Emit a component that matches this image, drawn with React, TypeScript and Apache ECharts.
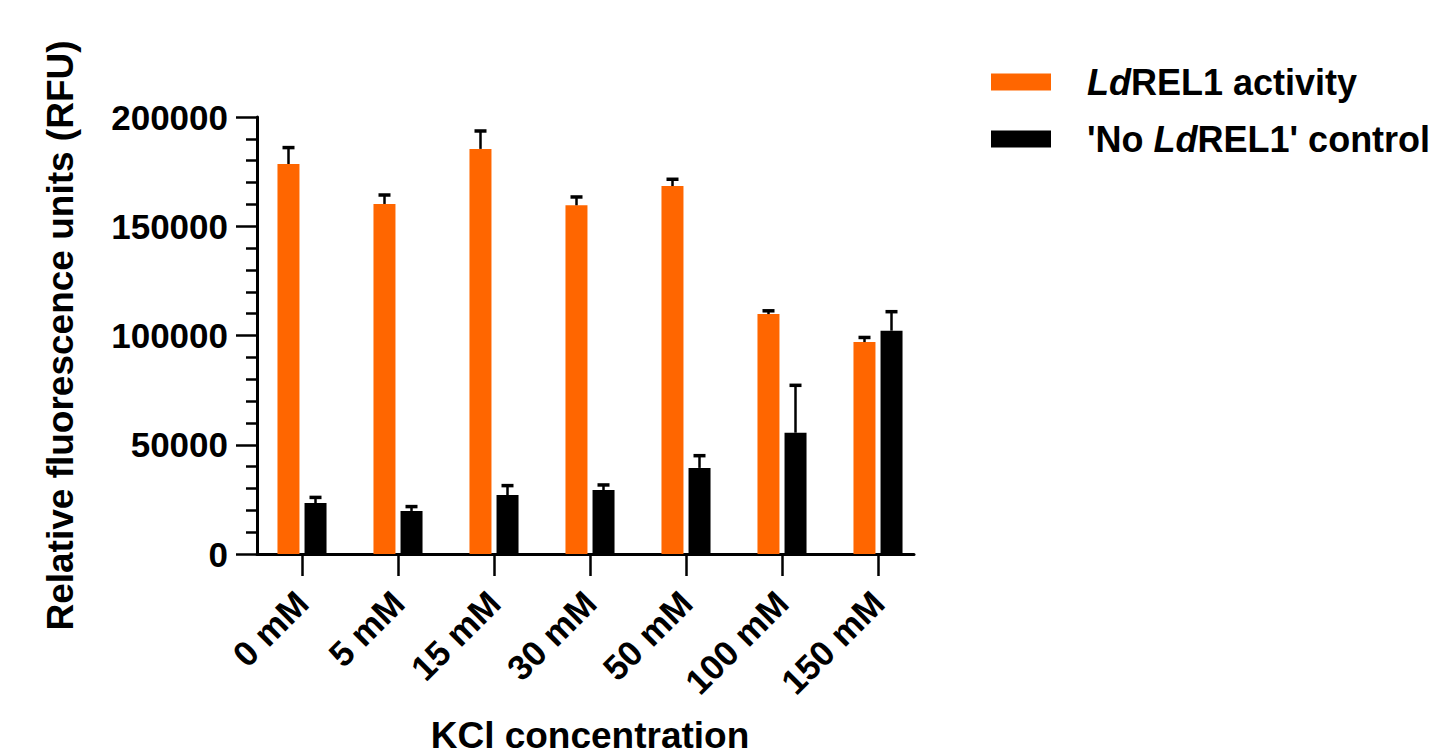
import React, { useEffect, useRef } from "react";
import * as echarts from "echarts";

const categories = ["0 mM", "5 mM", "15 mM", "30 mM", "50 mM", "100 mM", "150 mM"];
const activity = [178500, 160200, 185400, 159600, 168400, 109800, 97000];
const activityErr = [7500, 4100, 8200, 3800, 3100, 1500, 2100];
const control = [23300, 19700, 27000, 29300, 39400, 55500, 102200];
const controlErr = [2600, 2000, 4300, 2300, 5600, 21700, 8700];
const yTicks = [0, 50000, 100000, 150000, 200000];

const FONT = "'Liberation Sans', Arial, sans-serif";
const ORANGE = "#FF6600";

function errorSeries(name: string, means: number[], errs: number[], dx: number) {
  return {
    type: "custom",
    name,
    xAxisIndex: 0,
    yAxisIndex: 0,
    z: 5,
    silent: true,
    data: means.map((m, i) => [i, m, m + errs[i]]),
    renderItem: (params: any, api: any) => {
      const base = api.coord([api.value(0), api.value(1)]);
      const top = api.coord([api.value(0), api.value(2)]);
      const x = base[0] + dx;
      return {
        type: "group",
        children: [
          {
            type: "line",
            shape: { x1: x, y1: base[1], x2: x, y2: top[1] },
            style: { stroke: "#000", lineWidth: 2.5 },
          },
          {
            type: "line",
            shape: { x1: x - 6, y1: top[1], x2: x + 6, y2: top[1] },
            style: { stroke: "#000", lineWidth: 3.5 },
          },
        ],
      };
    },
  };
}

export default function App() {
  const ref = useRef<HTMLDivElement>(null);
  useEffect(() => {
    if (!ref.current) return;
    const chart = echarts.init(ref.current, null, { renderer: "svg" });
    const txt = { fontFamily: FONT, fontWeight: "bold", fontSize: 36, color: "#000", lineHeight: 40 };
    chart.setOption({
      animation: false,
      backgroundColor: "#fff",
      grid: [
        { left: 254, width: 672, top: 117, height: 437, containLabel: false, outerBoundsMode: "none" },
        { left: 257, right: 517, top: 117, height: 437, containLabel: false, outerBoundsMode: "none" },
      ],
      legend: {
        orient: "vertical",
        left: 991,
        top: 62,
        padding: 0,
        itemWidth: 60,
        itemHeight: 17,
        itemGap: 17,
        icon: "rect",
        data: ["LdREL1 activity", "'No LdREL1' control"],
        formatter: (name: string) =>
          name === "LdREL1 activity"
            ? "{g| }{i|Ld}{t|REL1 activity}"
            : "{g| }{t|'No }{i|Ld}{t|REL1' control}",
        textStyle: {
          ...txt,
          rich: {
            g: { ...txt, width: 31 },
            i: { ...txt, fontStyle: "italic" },
            t: { ...txt },
          },
        },
      },
      xAxis: [
        {
          type: "category",
          gridIndex: 0,
          data: categories,
          axisLine: { show: false },
          axisTick: { show: true, alignWithLabel: true, length: 22, lineStyle: { color: "#000", width: 2.5 } },
          axisLabel: {
            rotate: 45,
            margin: 43,
            interval: 0,
            fontFamily: FONT,
            fontWeight: "bold",
            fontSize: 35,
            color: "#000",
          },
          name: "KCl concentration",
          nameLocation: "middle",
          nameGap: 166,
          nameTextStyle: { fontFamily: FONT, fontWeight: "bold", fontSize: 37, lineHeight: 30, color: "#000" },
        },
        {
          type: "value",
          gridIndex: 1,
          min: 0,
          max: 1,
          axisLine: { show: true, lineStyle: { color: "#000", width: 3 } },
          axisTick: { show: false },
          axisLabel: { show: false },
          splitLine: { show: false },
        },
      ],
      yAxis: [
        {
          type: "value",
          gridIndex: 0,
          min: yTicks[0],
          max: yTicks[yTicks.length - 1],
          interval: yTicks[1] - yTicks[0],
          offset: -3,
          axisLine: { show: true, lineStyle: { color: "#000", width: 3 } },
          axisTick: { show: true, length: 21, lineStyle: { color: "#000", width: 2.5 } },
          minorTick: { show: true, splitNumber: 5, length: 11, lineStyle: { color: "#000", width: 2.5 } },
          splitLine: { show: false },
          minorSplitLine: { show: false },
          axisLabel: {
            margin: 29,
            formatter: (v: number) => String(v),
            fontFamily: FONT,
            fontWeight: "bold",
            fontSize: 35,
            color: "#000",
          },
          name: "Relative fluorescence units (RFU)",
          nameLocation: "middle",
          nameGap: 178,
          nameTextStyle: { fontFamily: FONT, fontWeight: "bold", fontSize: 37, color: "#000" },
        },
        {
          type: "value",
          gridIndex: 1,
          min: 0,
          max: 1,
          show: false,
        },
      ],
      series: [
        {
          type: "bar",
          name: "LdREL1 activity",
          xAxisIndex: 0,
          yAxisIndex: 0,
          data: activity,
          barWidth: 22,
          barGap: "23%",
          itemStyle: { color: ORANGE },
        },
        {
          type: "bar",
          name: "'No LdREL1' control",
          xAxisIndex: 0,
          yAxisIndex: 0,
          data: control,
          barWidth: 22,
          barGap: "23%",
          itemStyle: { color: "#000" },
        },
        errorSeries("errA", activity, activityErr, -13.5),
        errorSeries("errC", control, controlErr, 13.5),
      ],
    });
    return () => chart.dispose();
  }, []);
  return <div ref={ref} style={{ position: "fixed", left: 0, top: 0, width: 1431, height: 755 }} />;
}
